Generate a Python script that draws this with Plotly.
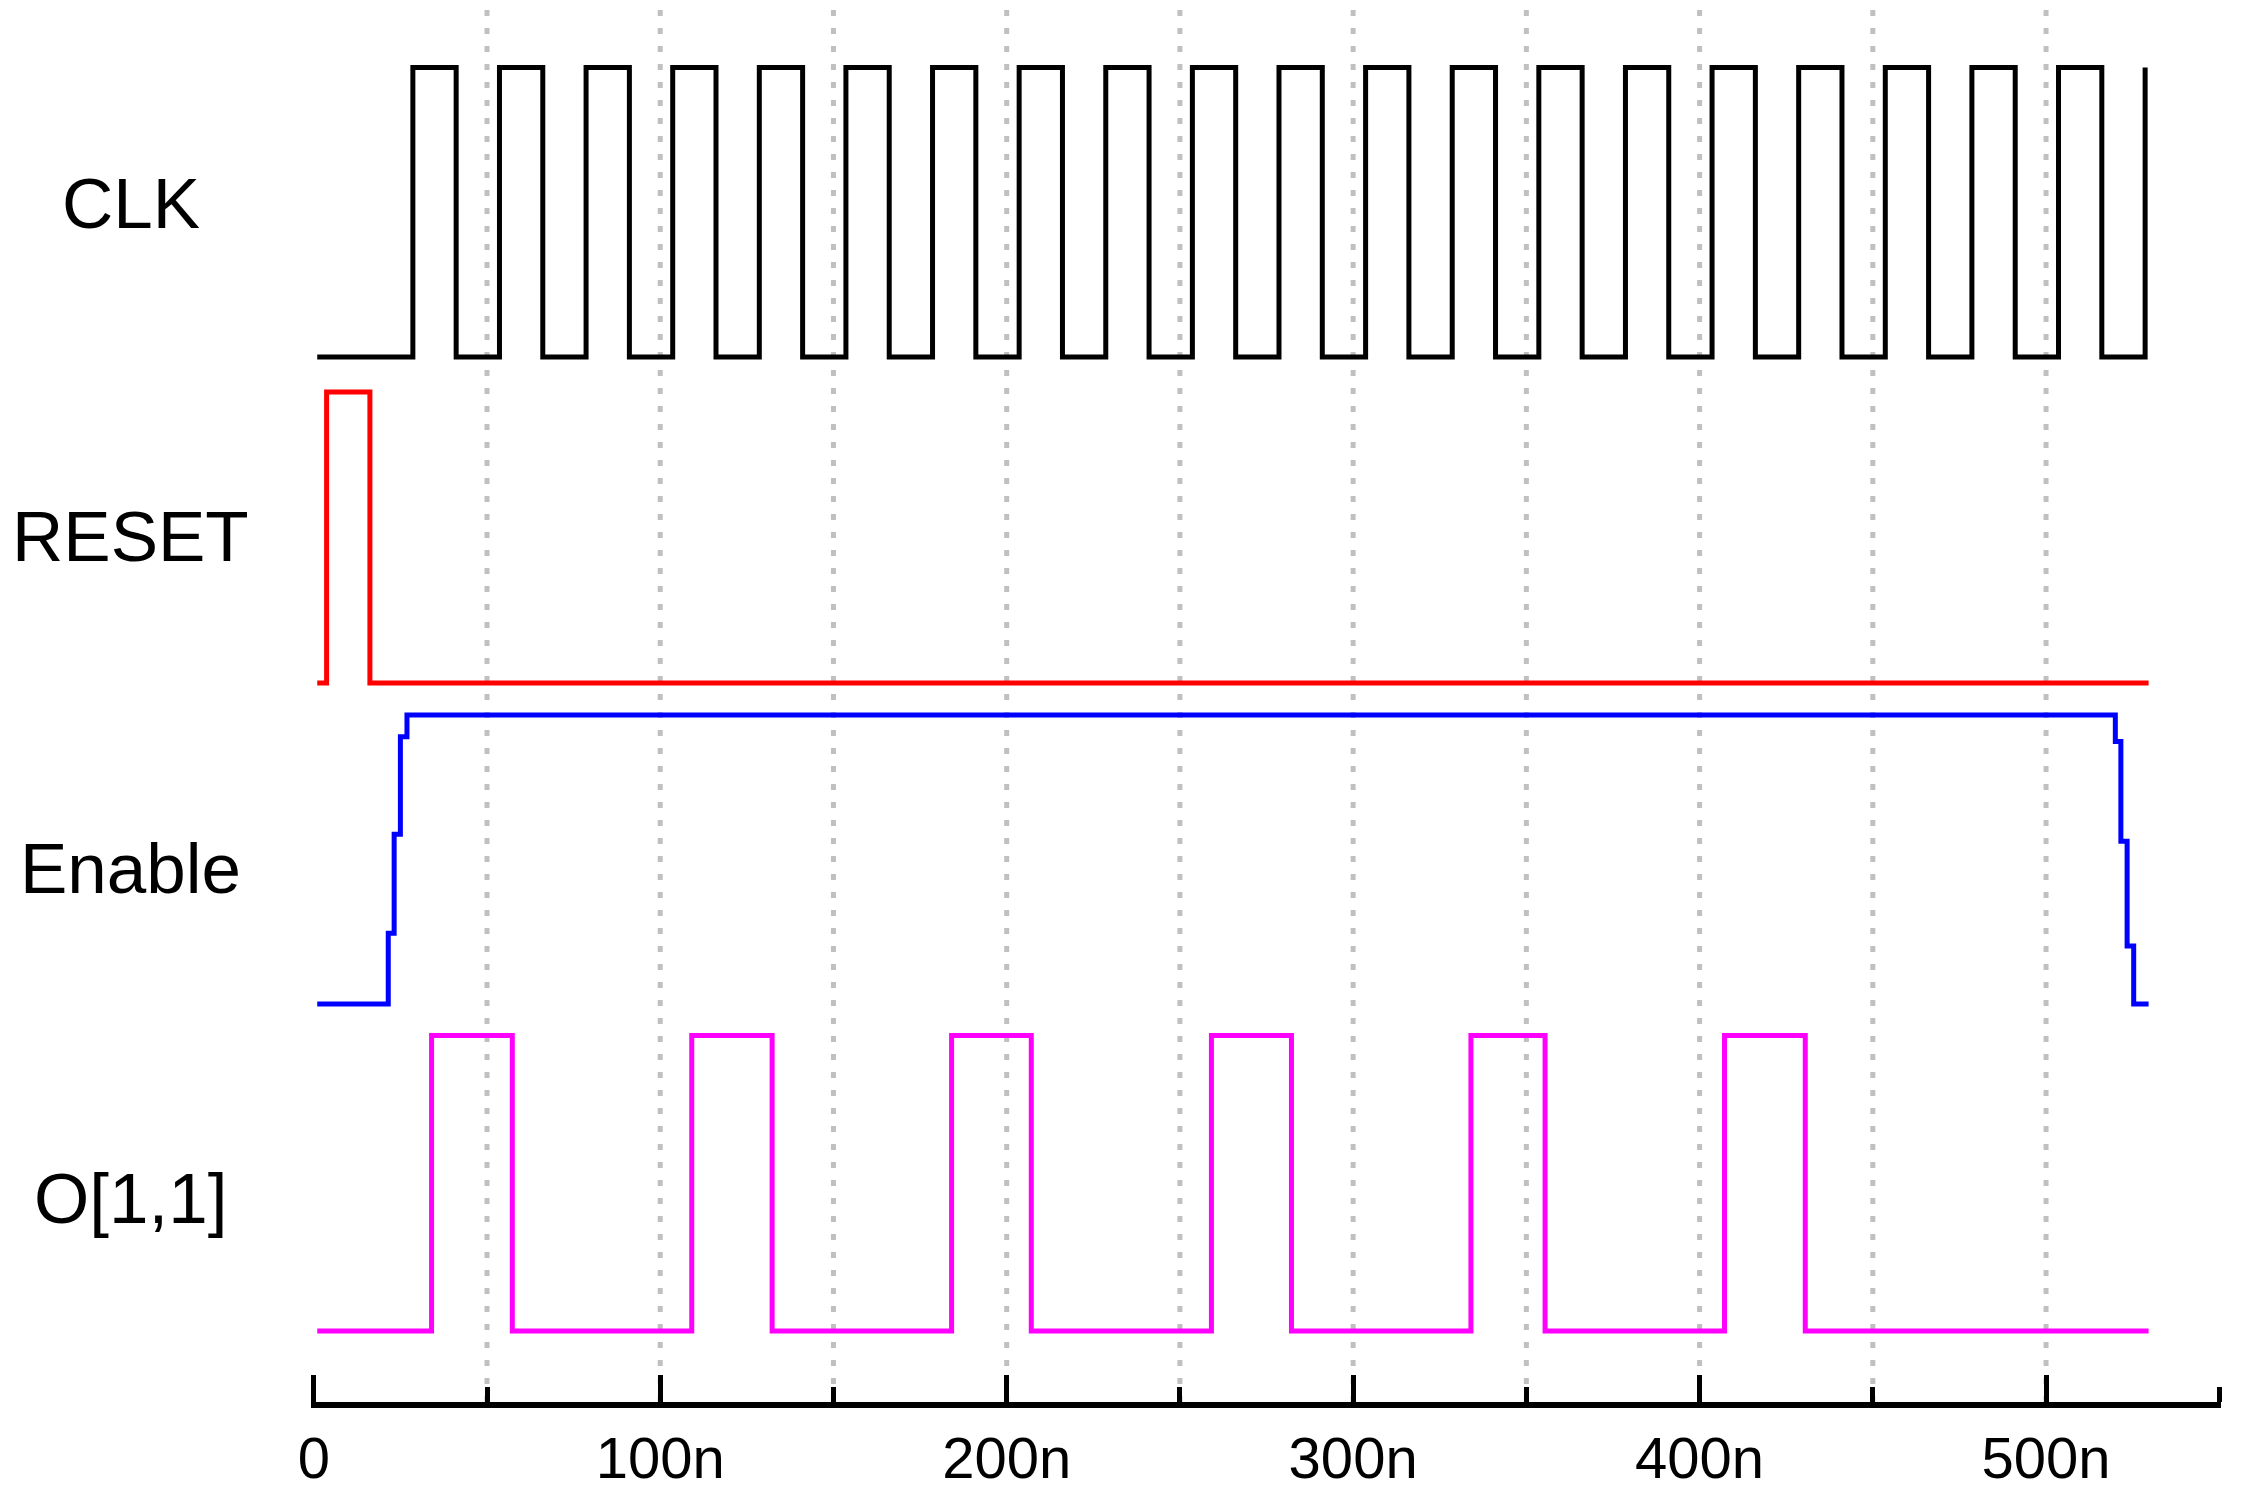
import plotly.graph_objects as go

# nombres de las senales
senales = ["CLK", "RESET", "Enable", "O[1,1]"]
colores = ["black", "#ff0000", "#0000ff", "#ff00ff"]

# tiempos (ns) y niveles logicos de cada senal
clk_t = [1, 28.6, 41.1, 53.6, 66.1, 78.6, 91.1, 103.6, 116.1, 128.6, 141.1,
         153.6, 166.1, 178.6, 191.1, 203.6, 216.1, 228.6, 241.1, 253.6, 266.1,
         278.6, 291.1, 303.6, 316.1, 328.6, 341.1, 353.6, 366.1, 378.6, 391.1,
         403.6, 416.1, 428.6, 441.1, 453.6, 466.1, 478.6, 491.1, 503.6, 516.1,
         528.6]
clk_v = [0, 1, 0, 1, 0, 1, 0, 1, 0, 1, 0,
         1, 0, 1, 0, 1, 0, 1, 0, 1, 0,
         1, 0, 1, 0, 1, 0, 1, 0, 1, 0,
         1, 0, 1, 0, 1, 0, 1, 0, 1, 0,
         1]

reset_t = [1, 3.7, 16.2, 529.6]
reset_v = [0, 1, 0, 0]

enable_t = [1, 21.5, 23.2, 25.0, 26.9, 520.0, 521.6, 523.4, 525.3, 529.6]
enable_v = [0, 0.245, 0.587, 0.925, 1, 0.908, 0.563, 0.201, 0, 0]

o11_t = [1, 34.0, 57.3, 109.1, 132.3, 184.1, 207.1, 259.1, 282.2,
         334.0, 355.4, 407.2, 430.5, 529.6]
o11_v = [0, 1, 0, 1, 0, 1, 0, 1, 0, 1, 0, 1, 0, 0]

# eje de tiempo
ticks_mayores = [0, 100, 200, 300, 400, 500]
etiquetas_ticks = ["0", "100n", "200n", "300n", "400n", "500n"]
lineas_grid = [50, 100, 150, 200, 250, 300, 350, 400, 450, 500]

datos = [(clk_t, clk_v), (reset_t, reset_v), (enable_t, enable_v), (o11_t, o11_v)]

# carril de cada senal: base y altura (en pixeles sobre el eje)
carriles = [(1045, 289.5), (719, 291), (398, 289), (71, 295.5)]
centros_etiqueta = [1199, 866, 534, 204]

fig = go.Figure()

for (t, v), (base, alto), color, nombre in zip(datos, carriles, colores, senales):
    fig.add_trace(go.Scatter(
        x=t,
        y=[base + nivel * alto for nivel in v],
        mode="lines",
        line=dict(color=color, width=5, shape="hv"),
        name=nombre,
        showlegend=False,
        hoverinfo="skip",
    ))

#lineas punteadas verticales
for g in lineas_grid:
    fig.add_shape(type="line", xref="x", yref="paper",
                  x0=g, x1=g, y0=0, y1=1, layer="below",
                  line=dict(color="#c0c0c0", width=5, dash="6px,12px"))

#etiquetas de las senales
for nombre, yc in zip(senales, centros_etiqueta):
    fig.add_annotation(text=nombre, xref="paper", yref="y",
                       x=-0.0945, y=yc, showarrow=False,
                       xanchor="center", yanchor="middle",
                       font=dict(family="Liberation Sans, Arial", size=71, color="black"))

# la pagina agrega 8px de margen, por eso 2233x1484
fig.update_layout(
    width=2233,
    height=1484,
    margin=dict(l=303, r=20, t=0, b=90),
    paper_bgcolor="white",
    plot_bgcolor="white",
    font=dict(family="Liberation Sans, Arial", color="black"),
    xaxis=dict(
        range=[-0.8, 550.5],
        showline=True,
        linewidth=6,
        linecolor="black",
        showgrid=False,
        zeroline=False,
        tickvals=ticks_mayores,
        ticktext=etiquetas_ticks,
        ticks="inside",
        ticklen=27,
        tickwidth=5,
        tickcolor="black",
        tickfont=dict(size=58, color="black"),
        minor=dict(dtick=50, tick0=0, ticks="inside", ticklen=15,
                   tickwidth=5, tickcolor="black", showgrid=False),
        fixedrange=True,
    ),
    yaxis=dict(
        range=[0, 1394],
        visible=False,
        showgrid=False,
        zeroline=False,
        fixedrange=True,
    ),
)

fig.write_html("out.html")
